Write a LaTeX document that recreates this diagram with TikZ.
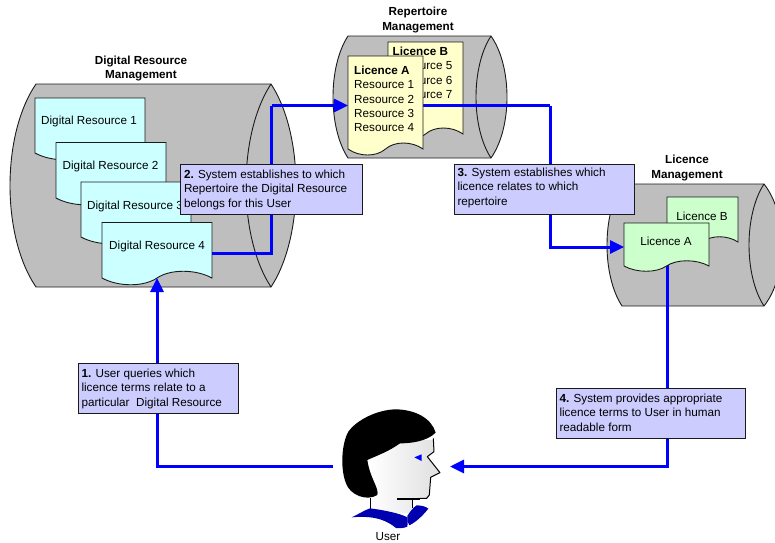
\documentclass[tikz,border=0pt]{standalone}
\usepackage{fontspec}
\setmainfont{Liberation Sans}
\usetikzlibrary{arrows.meta,calc}
\definecolor{cylgray}{HTML}{BEBEBE}
\definecolor{linedark}{HTML}{1A1A1A}
\definecolor{flowblue}{HTML}{0000FF}
\definecolor{boxlav}{HTML}{CCCCFF}
\definecolor{doccyan}{HTML}{CCFFFF}
\definecolor{docyellow}{HTML}{FFFFCC}
\definecolor{docgreen}{HTML}{CCFFCC}
\definecolor{collarblue}{HTML}{0000B0}
\newcommand{\dgfont}{\fontsize{11.7}{14.4}\selectfont}
% cylinder: xleft xright ytop ybottom bulgeLeft lensLeft lensRight
\newcommand{\dgcyl}[7]{%
  \draw[cylline,fill=cylgray]
    (#1,#3) -- (#2,#3)
    .. controls ({#2+(#7-#2)*4/3},{#3+(#4-#3)/4}) and ({#2+(#7-#2)*4/3},{#4-(#4-#3)/4}) .. (#2,#4)
    -- (#1,#4)
    .. controls ({#1+(#5-#1)*4/3},{#4-(#4-#3)/4}) and ({#1+(#5-#1)*4/3},{#3+(#4-#3)/4}) .. (#1,#3) -- cycle;
  \draw[cylline]
    (#2,#3) .. controls ({#2+(#6-#2)*4/3},{#3+(#4-#3)/4}) and ({#2+(#6-#2)*4/3},{#4-(#4-#3)/4}) .. (#2,#4);
}
% document: name x1 x2 ytop ybottom amplitude fill
\newcommand{\dgdoc}[7]{%
  \draw[cylline,fill=#7]
    (#2,#4) -- (#3,#4) -- (#3,#5)
    .. controls ({#3-(#3-#2)*0.15},{#5-#6}) and ({#2+(#3-#2)*0.62},{#5-#6}) .. ({(#2+#3)/2},#5)
    .. controls ({#2+(#3-#2)*0.38},{#5+#6}) and ({#2+(#3-#2)*0.15},{#5+#6}) .. (#2,#5) -- cycle;
  \node[hitbox,minimum width={(#3-#2)*1pt},minimum height={(#5+0.75*#6-#4)*1pt}] (#1) at ({(#2+#3)/2},{(#4+#5+0.75*#6)/2}) {};
}
% lavender box: name x y w h topgap text
\newcommand{\dgbox}[7]{%
  \node[notebox,anchor=north west,minimum width=#4pt,minimum height=#5pt] (#1) at (#2,#3)
   {\parbox[c][#5pt][t]{\dimexpr #4pt-7pt\relax}{\raggedright\dgfont\vspace{#6pt}#7}};
}
\tikzset{
  cylline/.style={draw=linedark,line width=0.9pt},
  hitbox/.style={inner sep=0pt,outer sep=0pt},
  flow/.style={draw=flowblue,line width=3pt,-{Triangle[length=14pt,width=13pt]}},
  flowplain/.style={draw=flowblue,line width=3pt},
  notebox/.style={draw=linedark,line width=1pt,fill=boxlav,inner xsep=3.5pt,inner ysep=0pt,outer sep=0pt},
  label/.style={inner sep=0pt,font=\dgfont},
  title/.style={inner sep=0pt,align=center,font=\dgfont\bfseries},
}
\begin{document}
\begin{tikzpicture}[x=1pt,y=-1pt]
\useasboundingbox (0,0) rectangle (775,542);
\clip (0,0) rectangle (775,542);
% cylinders
\dgcyl{36}{271}{84}{287}{10}{246}{296}
\dgcyl{348}{491}{36}{158}{333}{476}{507}
\dgcyl{622}{764}{184}{306}{607}{749}{782}
% titles
\node[title] (ttA) at (141,68.5) {Digital Resource\\Management};
\node[title] (ttB) at (418,20) {Repertoire\\Management};
\node[title] (ttC) at (687,168) {Licence\\Management};
% lower documents
\dgdoc{dra}{35}{145}{98}{153}{9}{doccyan}
\node[label] (draT) at (89,121) {Digital Resource 1};
\dgdoc{drb}{56}{166}{142.5}{198}{9}{doccyan}
\node[label] (drbT) at (110.5,166) {Digital Resource 2};
\dgdoc{drc}{81}{191}{182}{237}{9}{doccyan}
\node[label,anchor=west] (drcT) at (87,206) {Digital Resource 3};
\dgdoc{drd}{102}{212}{222.5}{278}{9}{doccyan}
\node[label] (drdT) at (157,246) {Digital Resource 4};
\dgdoc{rlb}{388}{463}{42}{134}{8}{docyellow}
\node[title,anchor=west] (rlbH) at (392.5,51) {Licence B};
\node[label,anchor=east] (rlbA) at (452.5,65.5) {Resource 5};
\node[label,anchor=east] (rlbB) at (452.5,80) {Resource 6};
\node[label,anchor=east] (rlbC) at (452.5,94.5) {Resource 7};
\dgdoc{llb}{667}{738}{197}{242}{7}{docgreen}
\node[label] (llbT) at (702,216) {Licence B};
% connector anchors and person box
\coordinate (drdIn) at (157,278);
\coordinate (bendA) at (271.5,105.5);
\coordinate (bendB) at (550,105.5);
\coordinate (llaOut) at (667,264);
\node[hitbox,minimum width=117pt,minimum height=10pt] (user) at (391.5,466.5) {};
% connectors
\draw[flow] (user.west) -| (drdIn);
\draw[flowplain] (drd.east) -| (bendA);
\draw[flow] (bendA) -- (348,105.5);
\draw[flowplain] (423,105.5) -- (bendB);
\draw[flow] (bendB) |- (624,247);
\draw[flow] (llaOut) |- (user.east);
% upper documents
\dgdoc{rla}{348}{423}{56}{149}{8}{docyellow}
\node[title,anchor=west] (rlaH) at (354,70) {Licence A};
\node[label,anchor=west] (rlaA) at (354,84.5) {Resource 1};
\node[label,anchor=west] (rlaB) at (354,99) {Resource 2};
\node[label,anchor=west] (rlaC) at (354,113.5) {Resource 3};
\node[label,anchor=west] (rlaD) at (354,128) {Resource 4};
\dgdoc{lla}{624}{709}{223}{266}{7}{docgreen}
\node[label] (llaT) at (666,241) {Licence A};
% notes
\dgbox{noteB}{180.5}{164}{182}{50}{6}{\textbf{2.} System establishes to which\\Repertoire the Digital Resource\\belongs for this User}
\dgbox{noteC}{454}{164}{180}{50}{4}{\textbf{3.} System establishes which\\licence relates to which\\repertoire}
\dgbox{noteA}{78}{363}{160}{50}{6}{\textbf{1.} User queries which\\licence terms relate to a\\particular\ \ Digital Resource}
\dgbox{noteD}{556}{388}{189}{50}{6}{\textbf{4.} System provides appropriate\\licence terms to User in human\\readable form}
% user figure
\begin{scope}[shift={(320,400)},x=0.3333pt,y=-0.3333pt]
  \shade[left color=white,right color=gray!25,draw=none]
    (150,120) -- (340,120) -- (342,155) -- (322,170) -- (360,218) -- (332,232) -- (328,285) -- (320,295)
    -- (278,298) -- (278,340) -- (150,340) -- (150,290) -- cycle;
  \draw[black,line width=1pt,line join=round]
    (340,115) -- (342,155) -- (322,170) -- (360,218) -- (332,232) -- (328,285) -- (320,295) -- (232,297);
  \draw[black,line width=1.6pt] (232,297) -- (300,297);
  \draw[black,line width=0.8pt] (150,295) -- (150,330) (278,298) -- (278,325);
  \fill[black]
    (347,98) .. controls (335,55) and (285,28) .. (225,28)
    .. controls (170,30) and (110,60) .. (85,95)
    .. controls (65,130) and (60,205) .. (78,250)
    .. controls (90,285) and (140,305) .. (172,285)
    .. controls (178,265) and (150,235) .. (142,180)
    .. controls (175,165) and (205,155) .. (240,130)
    .. controls (270,130) and (320,125) .. (347,98) -- cycle;
  \fill[flowblue] (283,172) -- (305,163) -- (305,183) -- cycle;
  \fill[collarblue]
    (95,352) .. controls (120,340) and (135,330) .. (150,325)
    .. controls (190,330) and (240,340) .. (262,352)
    .. controls (262,365) and (265,372) .. (262,380)
    .. controls (250,385) and (240,385) .. (228,384)
    .. controls (205,365) and (170,345) .. (95,352) -- cycle;
  \fill[collarblue]
    (262,348) .. controls (270,335) and (280,322) .. (290,316)
    .. controls (305,316) and (318,320) .. (325,326)
    .. controls (310,345) and (290,365) .. (268,376)
    .. controls (262,368) and (260,358) .. (262,348) -- cycle;
\end{scope}
\node[label] (userT) at (388,537) {User};
\end{tikzpicture}
\end{document}
